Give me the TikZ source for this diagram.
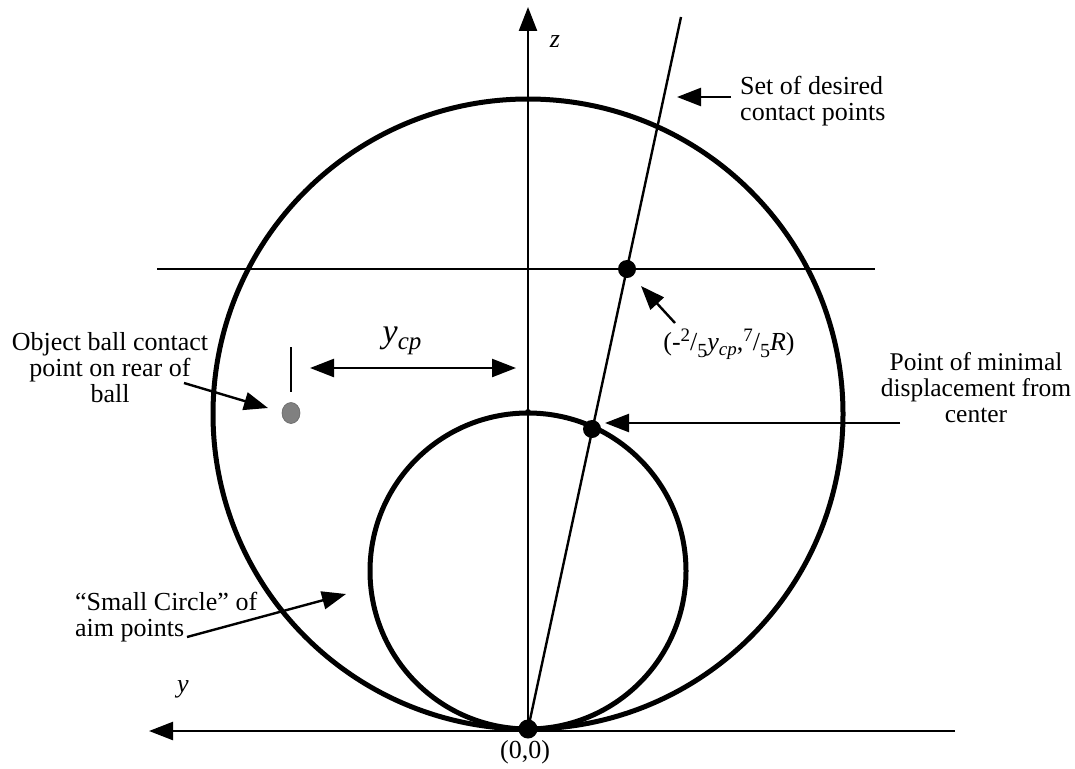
\documentclass[tikz,border=0pt]{standalone}
\usepackage{fontspec}
\setmainfont{Liberation Serif}
\usetikzlibrary{arrows.meta,shapes.geometric}
\newcommand\mysup[1]{\raisebox{9pt}{\fontsize{19}{19}\selectfont #1}}
\newcommand\mysub[1]{\raisebox{-7pt}{\fontsize{20}{20}\selectfont #1}}
\newcommand\mysubi[1]{\raisebox{-5pt}{\fontsize{19}{19}\selectfont\itshape #1}}
\newcommand\mysubbig[1]{\raisebox{-7pt}{\fontsize{25}{25}\selectfont\itshape #1}}
\begin{document}
\begin{tikzpicture}[x=1pt,y=-1pt,
  bigline/.style={line width=5pt},
  thinline/.style={line width=2.4pt},
  arr/.style={line width=2.4pt,-{Triangle[length=24pt,width=18pt]}},
  darr/.style={line width=2.4pt,{Triangle[length=24pt,width=18pt]}-{Triangle[length=24pt,width=18pt]}},
  dot/.style={circle,fill=black,inner sep=0pt,minimum size=19pt},
  lbl/.style={font=\fontsize{26}{26}\selectfont,inner sep=0pt},
]
\useasboundingbox (0,0) rectangle (1075,768);
% circles
\draw[bigline] (528,414) circle[radius=315pt];
\draw[bigline] (528,571) circle[radius=158pt];
% coordinates
\coordinate (O) at (528,729);
\coordinate (ztip) at (528,7);
\coordinate (xr) at (955,731);
\coordinate (xl) at (149,731);
\coordinate (hl) at (157,269);
\coordinate (hr) at (875,269);
\coordinate (stop) at (681,17);
% axes and lines
\draw[arr] (O) -- (ztip);
\draw[arr] (xr) -- (xl);
\draw[thinline] (hl) -- (hr);
\draw[thinline] (O) -- (stop);
% dots
\node[dot] (o) at (528,729) {};
\node[dot,minimum size=18pt] (p1) at (627,269) {};
\node[dot,minimum size=18pt] (p2) at (592,429) {};
\node[circle,fill=black,inner sep=0pt,minimum size=6pt] (st) at (528,412) {};
\node[ellipse,fill=gray,draw=gray!80!black,line width=0.6pt,inner sep=0pt,minimum width=18pt,minimum height=21pt] (gb) at (291,413) {};
% labels
\node[lbl] (z) at (555,42) {\textit{z}};
\node[lbl] (y) at (183,689) {\textit{y}};
\node[lbl] (orig) at (525,752) {(0,0)};
\node[lbl,anchor=west,align=left] (sdcp) at (740,101) {Set of desired\\contact points};
\node[lbl] (lab) at (729,344) {(-\mysup{2}/\mysub{5}\textit{y}\mysubi{cp},\mysup{7}/\mysub{5}\textit{R})};
\node[font=\fontsize{34}{34}\selectfont,inner sep=0pt] (ycp) at (402,341) {\textit{y}\mysubbig{cp}};
\node[lbl,align=center] (obj) at (110,368) {Object ball contact\\point on rear of\\ball};
\node[lbl,align=center,font=\fontsize{25.5}{26}\selectfont] (pmd) at (976,388) {Point of minimal\\displacement from\\center};
\node[lbl,anchor=west,align=left] (sc) at (75,617) {``Small Circle'' of\\aim points};
% arrows
\coordinate (a1s) at (731,97);
\coordinate (a1e) at (677,97);
\draw[arr] (a1s) -- (a1e);
\coordinate (a2s) at (675,323);
\coordinate (a2e) at (641,286);
\draw[arr] (a2s) -- (a2e);
\coordinate (a3s) at (900,423);
\coordinate (a3e) at (605,423);
\draw[arr] (a3s) -- (a3e);
\coordinate (a4s) at (184,383);
\coordinate (a4e) at (268,408);
\draw[arr] (a4s) -- (a4e);
\coordinate (a5s) at (187,637);
\coordinate (a5e) at (346,594);
\draw[arr] (a5s) -- (a5e);
\coordinate (d1) at (310,368);
\coordinate (d2) at (516,368);
\draw[darr] (d1) -- (d2);
\coordinate (t1) at (291,347);
\coordinate (t2) at (291,392);
\draw[thinline] (t1) -- (t2);
\end{tikzpicture}
\end{document}
